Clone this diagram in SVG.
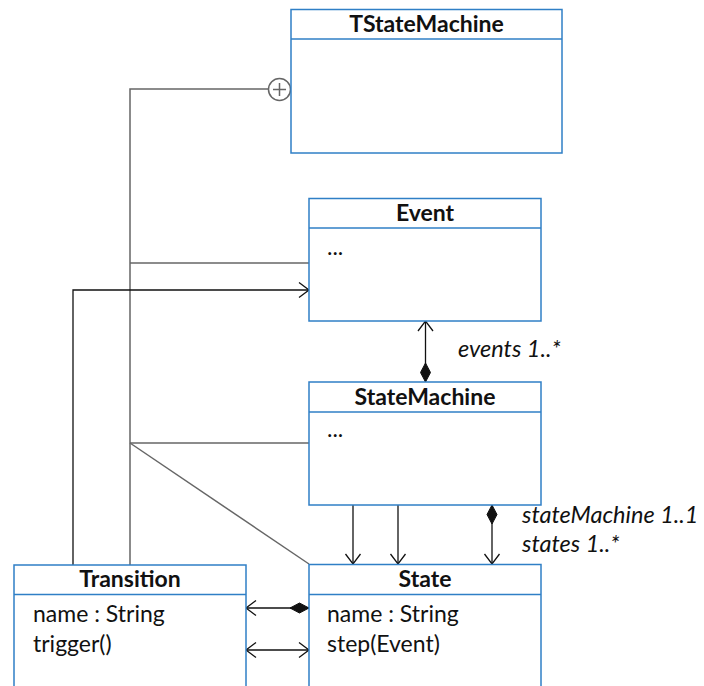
<svg xmlns="http://www.w3.org/2000/svg" width="704" height="686" viewBox="0 0 704 686">
  <style>
    .box { fill: #ffffff; stroke: #2f7fc6; stroke-width: 1.5; }
    .div { stroke: #2f7fc6; stroke-width: 1.5; }
    .title { font-family: Lato, "Liberation Sans", sans-serif; font-weight: bold; font-size: 23px; fill: #111; text-anchor: middle; }
    .attr { font-family: Lato, "Liberation Sans", sans-serif; font-size: 23px; fill: #111; }
    .role { font-family: Lato, "Liberation Sans", sans-serif; font-style: italic; font-size: 23.5px; fill: #111; }
    .nest { fill: none; stroke: #666; stroke-width: 1.5; }
    .assoc { fill: none; stroke: #111; stroke-width: 1.3; }
  </style>
  <defs>
    <marker id="open" markerUnits="userSpaceOnUse" markerWidth="20" markerHeight="20" refX="0" refY="0" viewBox="-12 -10 14 20" orient="auto-start-reverse" overflow="visible">
      <path d="M-10,-7.5 L0,0 L-10,7.5" fill="none" stroke="#111" stroke-width="1.3"/>
    </marker>
    <marker id="diamond" markerUnits="userSpaceOnUse" markerWidth="22" markerHeight="12" refX="0" refY="0" viewBox="0 -6 22 12" orient="auto" overflow="visible">
      <path d="M0,0 L9.5,-5 L19,0 L9.5,5 Z" fill="#111" stroke="#111" stroke-width="1"/>
    </marker>
  </defs>

  <!-- nesting and plain links (gray) -->
  <g id="connectors">
    <path class="nest" d="M130,565 L130,89 L268,89"/>
    <circle cx="279.5" cy="89.5" r="11" fill="#fff" stroke="#666" stroke-width="1.5"/>
    <path d="M273,89.5 H286 M279.5,83 V96" stroke="#666" stroke-width="1.5"/>
    <path class="nest" d="M130,263 H309"/>
    <path class="nest" d="M130,443 H309"/>
    <path class="nest" d="M130,443 L309,564"/>

    <!-- Transition to Event -->
    <path class="assoc" d="M73,565 V290 H309" marker-end="url(#open)"/>
    <!-- events 1..* -->
    <path class="assoc" d="M425.5,382 V321" marker-start="url(#diamond)" marker-end="url(#open)"/>
    <!-- StateMachine to State -->
    <path class="assoc" d="M353,505 V564" marker-end="url(#open)"/>
    <path class="assoc" d="M398,505 V564" marker-end="url(#open)"/>
    <path class="assoc" d="M492,505 V564" marker-start="url(#diamond)" marker-end="url(#open)"/>
    <!-- State / Transition -->
    <path class="assoc" d="M309,608 H246" marker-start="url(#diamond)" marker-end="url(#open)"/>
    <path class="assoc" d="M246,650 H309" marker-start="url(#open)" marker-end="url(#open)"/>
  </g>

  <g id="TStateMachine">
    <rect class="box" x="291" y="9.5" width="271" height="143.5"/>
    <line class="div" x1="291" y1="39" x2="562" y2="39"/>
    <text class="title" x="426.5" y="32">TStateMachine</text>
  </g>

  <g id="Event">
    <rect class="box" x="309" y="198.5" width="232" height="122.5"/>
    <line class="div" x1="309" y1="228" x2="541" y2="228"/>
    <text class="title" x="425" y="221">Event</text>
    <text class="attr" x="327" y="255">...</text>
  </g>

  <g id="StateMachine">
    <rect class="box" x="309" y="382" width="232" height="123"/>
    <line class="div" x1="309" y1="412" x2="541" y2="412"/>
    <text class="title" x="425" y="405">StateMachine</text>
    <text class="attr" x="327" y="437">...</text>
  </g>

  <g id="Transition">
    <rect class="box" x="14" y="565" width="232" height="130"/>
    <line class="div" x1="14" y1="594.5" x2="246" y2="594.5"/>
    <text class="title" x="130" y="587">Transition</text>
    <text class="attr" x="33" y="622">name : String</text>
    <text class="attr" x="33" y="652">trigger()</text>
  </g>

  <g id="State">
    <rect class="box" x="309" y="564.5" width="232" height="130"/>
    <line class="div" x1="309" y1="594.5" x2="541" y2="594.5"/>
    <text class="title" x="425" y="587">State</text>
    <text class="attr" x="327" y="622">name : String</text>
    <text class="attr" x="327" y="652">step(Event)</text>
  </g>

  <g id="labels">
    <text class="role" x="458" y="357">events 1..*</text>
    <text class="role" x="522" y="523">stateMachine 1..1</text>
    <text class="role" x="522" y="552">states 1..*</text>
  </g>
</svg>
